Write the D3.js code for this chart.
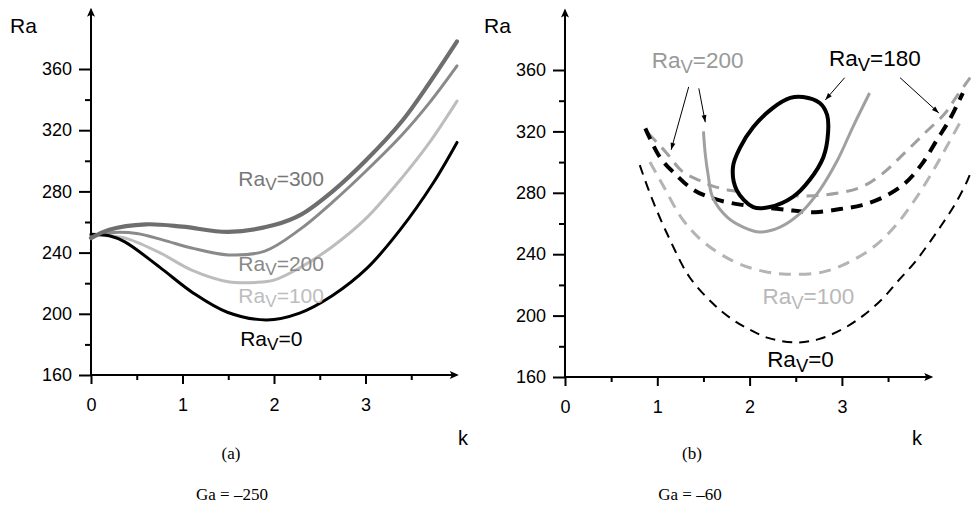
<!DOCTYPE html>
<html>
<head>
<meta charset="utf-8">
<script src="https://cdn.jsdelivr.net/npm/d3@7"></script>
<style>
  body { margin: 0; background: #fff; }
  svg { display: block; }
  text { font-family: "Liberation Sans", Arial, Helvetica, sans-serif; }
  .serif { font-family: "Liberation Serif", "Times New Roman", serif; }
</style>
</head>
<body>
<svg id="chart" width="971" height="507"></svg>
<script>
// ---- axis ticks ----
const kMajorTicks = [0, 1, 2, 3];
const kMinorTicks = [0.5, 1.5, 2.5, 3.5];
const raMajorTicks = [160, 200, 240, 280, 320, 360];
const raMinorTicks = [180, 220, 260, 300, 340];

// ---- panel (a): Ga = -250, neutral curves Ra(k) ----
const aRav0   = [[0,252],[0.2,251],[0.37,247],[0.75,230.5],[1.12,213.5],[1.49,201],[1.92,196],[2.28,200.5],[2.64,212],[3.02,230],[3.38,255],[3.74,285.5],[4.0,312]];
const aRav100 = [[0,251],[0.2,251],[0.4,249],[0.75,240],[1.1,228.6],[1.5,221],[1.8,220.5],[2.0,222],[2.28,230],[2.64,244],[3.0,262],[3.4,289],[3.7,312],[4.0,339]];
const aRav200 = [[0,251],[0.2,253],[0.5,252.5],[0.8,248],[1.1,243],[1.5,238.5],[1.9,241],[2.28,255],[2.64,273],[3.0,293],[3.4,317],[3.7,338],[4.0,362]];
const aRav300 = [[0,249.5],[0.2,255],[0.6,258.5],[1.0,257],[1.5,253.5],[2.0,258],[2.3,265],[2.64,280],[3.0,300],[3.4,326],[3.7,351],[4.0,378]];

// ---- panel (b): Ga = -60 ----
const bRav0      = [[0.81,298],[0.95,275],[1.14,249],[1.35,225],[1.6,208],[1.79,198.5],[1.98,191.5],[2.2,185.5],[2.49,182.5],[2.74,184.5],[3.0,191],[3.22,199.5],[3.44,211],[3.6,222],[3.78,234],[3.93,246],[4.08,259],[4.23,273],[4.36,288],[4.42,297]];
const bRav100    = [[0.92,300],[1.07,284],[1.27,263],[1.5,248],[1.79,236.5],[2.07,230],[2.4,227],[2.8,228.5],[3.1,235.5],[3.36,245.5],[3.58,258.5],[3.78,274.5],[3.96,291.5],[4.13,309.5],[4.3,328]];
const bRav180    = [[0.87,322],[1.03,303],[1.19,292.5],[1.39,282],[1.62,276],[1.9,272.3],[2.18,270.4],[2.47,268.4],[2.71,267.4],[2.98,269.4],[3.22,272],[3.46,277.5],[3.68,286],[3.87,299],[4.03,314.5],[4.17,328],[4.31,345]];
const bRav180Loop = [[2.58,342.4],[2.76,338.5],[2.84,330.7],[2.85,319],[2.8,303.3],[2.65,288.3],[2.47,277.3],[2.22,270.7],[2.04,270.7],[1.86,281.8],[1.82,296.8],[1.9,309.8],[2.04,322.9],[2.25,335.2],[2.44,341.8]];
const bRav200    = [[0.9,319],[1.1,306],[1.27,294],[1.46,288],[1.57,285],[1.8,281.5],[2.2,279],[2.5,278],[2.8,278.5],[3.2,283.5],[3.44,292.5],[3.68,306],[3.9,319],[4.12,332],[4.24,342.5],[4.39,355]];
const bRav200Loop = [[1.5,320],[1.52,305],[1.55,292],[1.6,277],[1.76,264],[1.93,257.7],[2.11,254.5],[2.33,257.7],[2.55,266.8],[2.76,281.8],[2.95,301],[3.12,323],[3.3,345]];

// curve labels: [text, k, Ra, colour]
const aLabels = [["300",1.61,283.5,"#777"],["200",1.61,228,"#888"],["100",1.61,207,"#bdbdbd"],["0",1.63,179,"#000"]];
const bLabels = [["200",0.94,361,"#999"],["180",2.86,362.5,"#000"],["100",2.14,207.5,"#b8b8b8"],["0",2.19,166.5,"#000"]];
// pointer arrows in panel (b): [k0, Ra0, k1, Ra1]
const bPointers = [[1.34,349,1.15,308],[1.45,348,1.52,326],[3.03,355,2.82,340.5],[3.63,355,4.05,332]];

const svg = d3.select("#chart");

// arrow marker for the pointer lines
const defs = svg.append("defs");
defs.append("marker").attr("id", "ptr").attr("viewBox", "0 0 10 10")
  .attr("refX", 10).attr("refY", 5).attr("markerWidth", 8).attr("markerHeight", 7)
  .attr("markerUnits", "userSpaceOnUse").attr("orient", "auto")
  .append("path").attr("d", "M0,1.5 L10,5 L0,8.5 Z").attr("fill", "#000");

function ravLabel(g, x, y, value, colour, size) {
  const t = g.append("text").attr("x", x).attr("y", y).attr("fill", colour).attr("font-size", size);
  t.append("tspan").text("Ra");
  t.append("tspan").attr("dy", size * 0.2).attr("font-size", size * 0.82).text("V");
  t.append("tspan").attr("dy", -size * 0.2).text("=" + value);
}

function drawPanel(cfg) {
  const { x, y, kEnd, raEnd, xTitle, raTitleX } = cfg;
  const g = svg.append("g");

  // major and minor ticks via d3 axes
  const yMaj = d3.axisLeft(y).tickValues(raMajorTicks).tickSize(12).tickPadding(7);
  const yMin = d3.axisLeft(y).tickValues(raMinorTicks).tickSize(6).tickFormat("");
  const xMaj = d3.axisBottom(x).tickValues(kMajorTicks).tickSize(9).tickPadding(14).tickFormat(d3.format("d"));
  const xMin = d3.axisBottom(x).tickValues(kMinorTicks).tickSize(5).tickFormat("");

  const styleAxis = sel => {
    sel.select(".domain").remove();
    sel.selectAll("line").attr("stroke", "#000").attr("stroke-width", 2);
    sel.selectAll("text").attr("font-size", 18).attr("fill", "#000")
      .attr("font-family", '"Liberation Sans", Arial, sans-serif');
  };
  g.append("g").attr("transform", `translate(${x(0)},0)`).call(yMaj).call(styleAxis);
  g.append("g").attr("transform", `translate(${x(0)},0)`).call(yMin).call(styleAxis);
  g.append("g").attr("transform", `translate(0,${y(160)})`).call(xMaj).call(styleAxis);
  g.append("g").attr("transform", `translate(0,${y(160)})`).call(xMin).call(styleAxis);

  // axis lines with arrow heads
  g.append("line").attr("x1", x(0)).attr("y1", y(160)).attr("x2", x(kEnd) - 2).attr("y2", y(160))
    .attr("stroke", "#000").attr("stroke-width", 2);
  g.append("line").attr("x1", x(0)).attr("y1", y(160)).attr("x2", x(0)).attr("y2", y(raEnd) + 2)
    .attr("stroke", "#000").attr("stroke-width", 2);
  const head = "M0,0 L-9,-4 L-7,0 L-9,4 Z";
  g.append("path").attr("d", head).attr("transform", `translate(${x(kEnd)},${y(160)})`).attr("fill", "#000");
  g.append("path").attr("d", head).attr("transform", `translate(${x(0)},${y(raEnd)}) rotate(-90)`).attr("fill", "#000");

  // axis titles
  g.append("text").attr("x", raTitleX).attr("y", 33).attr("font-size", 21).text("Ra");
  g.append("text").attr("x", xTitle).attr("y", 445).attr("font-size", 20).text("k");
  return g;
}

// ---------- panel (a) ----------
const xa = d3.scaleLinear().domain([0, 4]).range([91, 457]);
const ya = d3.scaleLinear().domain([160, 360]).range([375, 69]);
const ga = drawPanel({ x: xa, y: ya, kEnd: 4.02, raEnd: 400, xTitle: 458, raTitleX: 10 });
const lineA = d3.line().curve(d3.curveCatmullRom.alpha(0.5)).x(d => xa(d[0])).y(d => ya(d[1]));
[
  [aRav100, "#bdbdbd", 3],
  [aRav200, "#8a8a8a", 3],
  [aRav0, "#000", 3],
  [aRav300, "#6e6e6e", 4.2]
].forEach(([data, colour, w]) => {
  ga.append("path").attr("d", lineA(data)).attr("fill", "none")
    .attr("stroke", colour).attr("stroke-width", w).attr("stroke-linecap", "round");
});
aLabels.forEach(([v, k, ra, c]) => ravLabel(ga, xa(k), ya(ra), v, c, 21));

// ---------- panel (b) ----------
const xb = d3.scaleLinear().domain([0, 4]).range([565, 934.2]);
const yb = d3.scaleLinear().domain([160, 360]).range([377, 70]);
const gb = drawPanel({ x: xb, y: yb, kEnd: 3.99, raEnd: 400, xTitle: 912, raTitleX: 484 });
const lineB = d3.line().curve(d3.curveCatmullRom.alpha(0.5)).x(d => xb(d[0])).y(d => yb(d[1]));
const loopB = d3.line().curve(d3.curveCatmullRomClosed.alpha(0.5)).x(d => xb(d[0])).y(d => yb(d[1]));

gb.append("path").attr("d", lineB(bRav0)).attr("fill", "none")
  .attr("stroke", "#000").attr("stroke-width", 2).attr("stroke-dasharray", "10 7");
gb.append("path").attr("d", lineB(bRav100)).attr("fill", "none")
  .attr("stroke", "#b4b4b4").attr("stroke-width", 3).attr("stroke-dasharray", "12 8");
gb.append("path").attr("d", lineB(bRav200)).attr("fill", "none")
  .attr("stroke", "#a0a0a0").attr("stroke-width", 3).attr("stroke-dasharray", "12 8");
gb.append("path").attr("d", lineB(bRav180)).attr("fill", "none")
  .attr("stroke", "#000").attr("stroke-width", 4).attr("stroke-dasharray", "12 8");
gb.append("path").attr("d", lineB(bRav200Loop)).attr("fill", "none")
  .attr("stroke", "#a0a0a0").attr("stroke-width", 3);
gb.append("path").attr("d", loopB(bRav180Loop)).attr("fill", "#fff")
  .attr("stroke", "#000").attr("stroke-width", 4);

bLabels.forEach(([v, k, ra, c]) => ravLabel(gb, xb(k), yb(ra), v, c, 22.5));
bPointers.forEach(([k0, r0, k1, r1]) => {
  gb.append("line").attr("x1", xb(k0)).attr("y1", yb(r0)).attr("x2", xb(k1)).attr("y2", yb(r1))
    .attr("stroke", "#000").attr("stroke-width", 1).attr("marker-end", "url(#ptr)");
});

// ---------- captions ----------
const captions = [["(a)", 231, 459], ["Ga = \u2013250", 232, 500], ["(b)", 692, 459], ["Ga = \u201360", 690, 500]];
captions.forEach(([t, x, y]) => {
  svg.append("text").attr("class", "serif").attr("x", x).attr("y", y)
    .attr("text-anchor", "middle").attr("font-size", 17).text(t);
});
</script>
</body>
</html>
